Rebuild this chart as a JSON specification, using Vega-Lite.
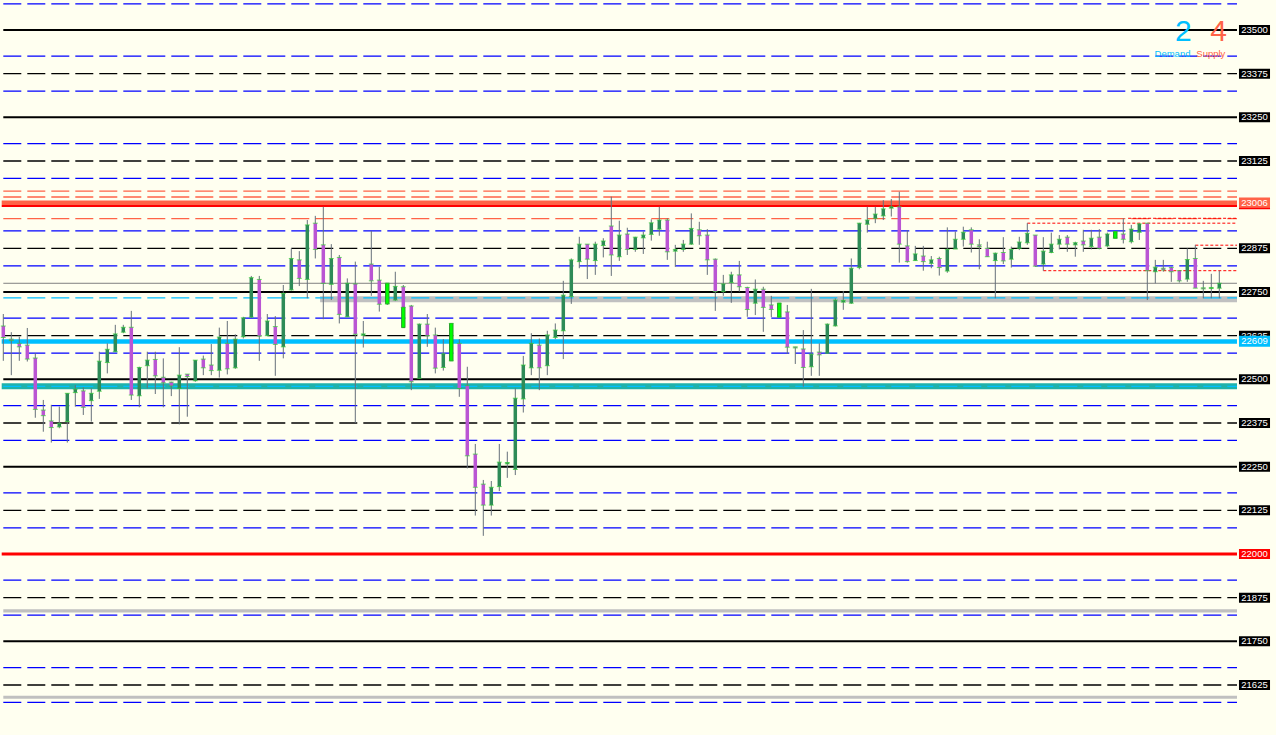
{
"$schema": "https://vega.github.io/schema/vega-lite/v6.json",
"width": 1276, "height": 735, "autosize": "none", "padding": 0,
"background": "#FFFFF0",
"config": {"view": {"stroke": null}, "scale": {"continuousPadding": 0}},
"resolve": {"scale": {"color": "independent"}},
"datasets": {
"candles": [
{"i":0,"o":22653,"h":22687,"l":22553,"c":22620,"t":"d"},
{"i":1,"o":22615,"h":22635,"l":22512,"c":22611,"t":"d"},
{"i":2,"o":22603,"h":22622,"l":22553,"c":22593,"t":"d"},
{"i":3,"o":22598,"h":22647,"l":22551,"c":22558,"t":"d"},
{"i":4,"o":22561,"h":22575,"l":22390,"c":22414,"t":"d"},
{"i":5,"o":22412,"h":22441,"l":22350,"c":22396,"t":"d"},
{"i":6,"o":22381,"h":22427,"l":22319,"c":22362,"t":"d"},
{"i":7,"o":22364,"h":22422,"l":22360,"c":22374,"t":"u"},
{"i":8,"o":22379,"h":22460,"l":22319,"c":22460,"t":"u"},
{"i":9,"o":22462,"h":22484,"l":22422,"c":22472,"t":"u"},
{"i":10,"o":22467,"h":22477,"l":22398,"c":22420,"t":"d"},
{"i":11,"o":22439,"h":22474,"l":22379,"c":22460,"t":"u"},
{"i":12,"o":22466,"h":22579,"l":22444,"c":22552,"t":"u"},
{"i":13,"o":22548,"h":22603,"l":22517,"c":22586,"t":"u"},
{"i":14,"o":22579,"h":22656,"l":22579,"c":22630,"t":"u"},
{"i":15,"o":22635,"h":22656,"l":22632,"c":22649,"t":"u"},
{"i":16,"o":22649,"h":22696,"l":22441,"c":22455,"t":"d"},
{"i":17,"o":22453,"h":22536,"l":22420,"c":22534,"t":"u"},
{"i":18,"o":22539,"h":22579,"l":22474,"c":22555,"t":"u"},
{"i":19,"o":22557,"h":22579,"l":22458,"c":22510,"t":"d"},
{"i":20,"o":22506,"h":22560,"l":22420,"c":22490,"t":"d"},
{"i":21,"o":22492,"h":22493,"l":22452,"c":22481,"t":"d"},
{"i":22,"o":22474,"h":22592,"l":22371,"c":22512,"t":"u"},
{"i":23,"o":22515,"h":22515,"l":22393,"c":22508,"t":"d"},
{"i":24,"o":22496,"h":22555,"l":22493,"c":22555,"t":"u"},
{"i":25,"o":22558,"h":22568,"l":22512,"c":22533,"t":"d"},
{"i":26,"o":22541,"h":22601,"l":22512,"c":22525,"t":"d"},
{"i":27,"o":22526,"h":22648,"l":22505,"c":22621,"t":"u"},
{"i":28,"o":22603,"h":22667,"l":22514,"c":22530,"t":"d"},
{"i":29,"o":22533,"h":22629,"l":22530,"c":22615,"t":"u"},
{"i":30,"o":22622,"h":22679,"l":22617,"c":22676,"t":"u"},
{"i":31,"o":22678,"h":22796,"l":22676,"c":22791,"t":"u"},
{"i":32,"o":22786,"h":22796,"l":22553,"c":22624,"t":"d"},
{"i":33,"o":22625,"h":22687,"l":22625,"c":22667,"t":"u"},
{"i":34,"o":22651,"h":22681,"l":22510,"c":22600,"t":"d"},
{"i":35,"o":22593,"h":22770,"l":22560,"c":22746,"t":"u"},
{"i":36,"o":22756,"h":22875,"l":22754,"c":22846,"t":"u"},
{"i":37,"o":22842,"h":22867,"l":22767,"c":22789,"t":"d"},
{"i":38,"o":22786,"h":22956,"l":22732,"c":22942,"t":"u"},
{"i":39,"o":22947,"h":22968,"l":22846,"c":22872,"t":"d"},
{"i":40,"o":22885,"h":22994,"l":22672,"c":22775,"t":"d"},
{"i":41,"o":22772,"h":22887,"l":22727,"c":22846,"t":"u"},
{"i":42,"o":22849,"h":22856,"l":22660,"c":22686,"t":"d"},
{"i":43,"o":22679,"h":22789,"l":22679,"c":22775,"t":"u"},
{"i":44,"o":22773,"h":22837,"l":22375,"c":22629,"t":"d"},
{"i":45,"o":22626,"h":22667,"l":22591,"c":22630,"t":"u"},
{"i":46,"o":22830,"h":22925,"l":22739,"c":22782,"t":"d"},
{"i":47,"o":22784,"h":22822,"l":22694,"c":22715,"t":"d"},
{"i":48,"o":22716,"h":22775,"l":22713,"c":22775,"t":"u"},
{"i":49,"o":22727,"h":22808,"l":22724,"c":22766,"t":"u"},
{"i":50,"o":22765,"h":22770,"l":22648,"c":22706,"t":"d"},
{"i":51,"o":22710,"h":22713,"l":22469,"c":22493,"t":"d"},
{"i":52,"o":22503,"h":22660,"l":22501,"c":22658,"t":"u"},
{"i":53,"o":22658,"h":22687,"l":22593,"c":22625,"t":"d"},
{"i":54,"o":22627,"h":22648,"l":22517,"c":22532,"t":"d"},
{"i":55,"o":22534,"h":22615,"l":22525,"c":22573,"t":"u"},
{"i":56,"o":22553,"h":22660,"l":22553,"c":22660,"t":"u"},
{"i":57,"o":22603,"h":22615,"l":22450,"c":22474,"t":"d"},
{"i":58,"o":22482,"h":22536,"l":22245,"c":22281,"t":"d"},
{"i":59,"o":22286,"h":22315,"l":22110,"c":22191,"t":"d"},
{"i":60,"o":22200,"h":22212,"l":22052,"c":22140,"t":"d"},
{"i":61,"o":22140,"h":22209,"l":22110,"c":22191,"t":"u"},
{"i":62,"o":22193,"h":22315,"l":22180,"c":22263,"t":"u"},
{"i":63,"o":22258,"h":22293,"l":22218,"c":22262,"t":"u"},
{"i":64,"o":22242,"h":22474,"l":22226,"c":22446,"t":"u"},
{"i":65,"o":22444,"h":22567,"l":22405,"c":22541,"t":"u"},
{"i":66,"o":22533,"h":22632,"l":22512,"c":22603,"t":"u"},
{"i":67,"o":22598,"h":22617,"l":22469,"c":22533,"t":"d"},
{"i":68,"o":22539,"h":22639,"l":22512,"c":22627,"t":"u"},
{"i":69,"o":22620,"h":22660,"l":22615,"c":22641,"t":"u"},
{"i":70,"o":22639,"h":22782,"l":22558,"c":22741,"t":"u"},
{"i":71,"o":22737,"h":22846,"l":22716,"c":22842,"t":"u"},
{"i":72,"o":22837,"h":22908,"l":22818,"c":22887,"t":"u"},
{"i":73,"o":22887,"h":22887,"l":22787,"c":22844,"t":"d"},
{"i":74,"o":22840,"h":22894,"l":22799,"c":22887,"t":"u"},
{"i":75,"o":22883,"h":22904,"l":22849,"c":22896,"t":"u"},
{"i":76,"o":22939,"h":23023,"l":22796,"c":22856,"t":"d"},
{"i":77,"o":22851,"h":22954,"l":22839,"c":22913,"t":"u"},
{"i":78,"o":22916,"h":22934,"l":22856,"c":22872,"t":"d"},
{"i":79,"o":22872,"h":22908,"l":22865,"c":22907,"t":"u"},
{"i":80,"o":22905,"h":22923,"l":22859,"c":22913,"t":"u"},
{"i":81,"o":22915,"h":22958,"l":22897,"c":22948,"t":"u"},
{"i":82,"o":22930,"h":22994,"l":22911,"c":22956,"t":"u"},
{"i":83,"o":22956,"h":22961,"l":22842,"c":22865,"t":"d"},
{"i":84,"o":22867,"h":22885,"l":22822,"c":22872,"t":"u"},
{"i":85,"o":22872,"h":22899,"l":22865,"c":22887,"t":"u"},
{"i":86,"o":22887,"h":22975,"l":22885,"c":22932,"t":"u"},
{"i":87,"o":22928,"h":22951,"l":22885,"c":22911,"t":"d"},
{"i":88,"o":22913,"h":22930,"l":22799,"c":22842,"t":"d"},
{"i":89,"o":22844,"h":22846,"l":22696,"c":22751,"t":"d"},
{"i":90,"o":22751,"h":22799,"l":22739,"c":22773,"t":"u"},
{"i":91,"o":22777,"h":22808,"l":22719,"c":22799,"t":"u"},
{"i":92,"o":22799,"h":22839,"l":22751,"c":22765,"t":"d"},
{"i":93,"o":22763,"h":22765,"l":22679,"c":22700,"t":"d"},
{"i":94,"o":22718,"h":22786,"l":22684,"c":22758,"t":"u"},
{"i":95,"o":22758,"h":22765,"l":22636,"c":22706,"t":"d"},
{"i":96,"o":22713,"h":22739,"l":22678,"c":22700,"t":"d"},
{"i":97,"o":22678,"h":22718,"l":22678,"c":22718,"t":"u"},
{"i":98,"o":22693,"h":22713,"l":22573,"c":22592,"t":"d"},
{"i":99,"o":22593,"h":22593,"l":22544,"c":22590,"t":"d"},
{"i":100,"o":22587,"h":22641,"l":22479,"c":22534,"t":"d"},
{"i":101,"o":22536,"h":22759,"l":22510,"c":22572,"t":"u"},
{"i":102,"o":22578,"h":22603,"l":22510,"c":22570,"t":"d"},
{"i":103,"o":22575,"h":22660,"l":22573,"c":22658,"t":"u"},
{"i":104,"o":22653,"h":22732,"l":22651,"c":22727,"t":"u"},
{"i":105,"o":22721,"h":22753,"l":22699,"c":22726,"t":"u"},
{"i":106,"o":22718,"h":22846,"l":22716,"c":22818,"t":"u"},
{"i":107,"o":22820,"h":22948,"l":22815,"c":22947,"t":"u"},
{"i":108,"o":22944,"h":22994,"l":22920,"c":22956,"t":"u"},
{"i":109,"o":22961,"h":22994,"l":22947,"c":22973,"t":"u"},
{"i":110,"o":22968,"h":23013,"l":22956,"c":22988,"t":"u"},
{"i":111,"o":22990,"h":23016,"l":22966,"c":22994,"t":"u"},
{"i":112,"o":22994,"h":23037,"l":22834,"c":22887,"t":"d"},
{"i":113,"o":22882,"h":22927,"l":22834,"c":22837,"t":"d"},
{"i":114,"o":22840,"h":22882,"l":22839,"c":22859,"t":"u"},
{"i":115,"o":22853,"h":22882,"l":22811,"c":22837,"t":"d"},
{"i":116,"o":22832,"h":22853,"l":22818,"c":22842,"t":"u"},
{"i":117,"o":22846,"h":22851,"l":22797,"c":22820,"t":"d"},
{"i":118,"o":22810,"h":22935,"l":22805,"c":22872,"t":"u"},
{"i":119,"o":22873,"h":22923,"l":22873,"c":22901,"t":"u"},
{"i":120,"o":22901,"h":22937,"l":22880,"c":22921,"t":"u"},
{"i":121,"o":22928,"h":22935,"l":22863,"c":22887,"t":"d"},
{"i":122,"o":22885,"h":22901,"l":22815,"c":22880,"t":"d"},
{"i":123,"o":22875,"h":22894,"l":22851,"c":22851,"t":"d"},
{"i":124,"o":22840,"h":22863,"l":22732,"c":22861,"t":"u"},
{"i":125,"o":22863,"h":22907,"l":22830,"c":22839,"t":"d"},
{"i":126,"o":22844,"h":22880,"l":22820,"c":22872,"t":"u"},
{"i":127,"o":22875,"h":22908,"l":22870,"c":22893,"t":"u"},
{"i":128,"o":22891,"h":22947,"l":22885,"c":22918,"t":"u"},
{"i":129,"o":22913,"h":22913,"l":22822,"c":22824,"t":"d"},
{"i":130,"o":22830,"h":22907,"l":22811,"c":22867,"t":"u"},
{"i":131,"o":22863,"h":22920,"l":22861,"c":22887,"t":"u"},
{"i":132,"o":22887,"h":22913,"l":22872,"c":22901,"t":"u"},
{"i":133,"o":22907,"h":22913,"l":22865,"c":22887,"t":"d"},
{"i":134,"o":22885,"h":22894,"l":22851,"c":22891,"t":"u"},
{"i":135,"o":22896,"h":22928,"l":22865,"c":22885,"t":"d"},
{"i":136,"o":22880,"h":22928,"l":22872,"c":22904,"t":"u"},
{"i":137,"o":22907,"h":22930,"l":22872,"c":22875,"t":"d"},
{"i":138,"o":22882,"h":22920,"l":22878,"c":22916,"t":"u"},
{"i":139,"o":22904,"h":22923,"l":22904,"c":22923,"t":"u"},
{"i":140,"o":22916,"h":22961,"l":22889,"c":22901,"t":"d"},
{"i":141,"o":22894,"h":22942,"l":22889,"c":22930,"t":"u"},
{"i":142,"o":22921,"h":22947,"l":22899,"c":22945,"t":"u"},
{"i":143,"o":22947,"h":22947,"l":22727,"c":22811,"t":"d"},
{"i":144,"o":22808,"h":22842,"l":22775,"c":22821,"t":"u"},
{"i":145,"o":22818,"h":22842,"l":22808,"c":22813,"t":"d"},
{"i":146,"o":22820,"h":22822,"l":22779,"c":22808,"t":"d"},
{"i":147,"o":22811,"h":22811,"l":22777,"c":22782,"t":"d"},
{"i":148,"o":22787,"h":22875,"l":22779,"c":22843,"t":"u"},
{"i":149,"o":22846,"h":22885,"l":22761,"c":22761,"t":"d"},
{"i":150,"o":22762,"h":22782,"l":22732,"c":22759,"t":"d"},
{"i":151,"o":22760,"h":22802,"l":22732,"c":22763,"t":"u"},
{"i":152,"o":22761,"h":22811,"l":22732,"c":22775,"t":"u"}
],
"lime": [
{"i":48,"lo":22716,"hi":22775},
{"i":50,"lo":22648,"hi":22706},
{"i":56,"lo":22553,"hi":22660},
{"i":97,"lo":22678,"hi":22718},
{"i":139,"lo":22904,"hi":22923}
],
"levels": [
{"p":23500,"a":0,"b":154.2125,"kind":"major"},
{"p":23250,"a":0,"b":154.2125,"kind":"major"},
{"p":22750,"a":0,"b":154.2125,"kind":"major"},
{"p":22500,"a":0,"b":154.2125,"kind":"major"},
{"p":22250,"a":0,"b":154.2125,"kind":"major"},
{"p":21750,"a":0,"b":154.2125,"kind":"major"},
{"p":22775,"a":0,"b":154.2125,"kind":"grid"},
{"p":22729,"a":39.6,"b":154.2125,"kind":"greyband"},
{"p":22480,"a":-0.2,"b":154.2125,"kind":"tealband"},
{"p":23005.5,"a":-0.2,"b":154.2125,"kind":"sup"},
{"p":22996,"a":-0.2,"b":154.2125,"kind":"supline"},
{"p":22990,"a":154.46,"b":158.34,"kind":"supline"},
{"p":22608,"a":-0.2,"b":154.2125,"kind":"dem"},
{"p":22000,"a":-0.2,"b":154.2125,"kind":"round"},
{"p":21837,"a":0,"b":154.2125,"kind":"lowband"},
{"p":21590,"a":0,"b":154.2125,"kind":"lowband"},
{"p":23375,"a":0,"b":154.2125,"kind":"dash"},
{"p":23125,"a":0,"b":154.2125,"kind":"dash"},
{"p":22875,"a":0,"b":154.2125,"kind":"dash"},
{"p":22625,"a":0,"b":154.2125,"kind":"dash"},
{"p":22375,"a":0,"b":154.2125,"kind":"dash"},
{"p":22125,"a":0,"b":154.2125,"kind":"dash"},
{"p":21875,"a":0,"b":154.2125,"kind":"dash"},
{"p":21625,"a":0,"b":154.2125,"kind":"dash"},
{"p":23575,"a":0,"b":154.2125,"kind":"blue"},
{"p":23425,"a":0,"b":154.2125,"kind":"blue"},
{"p":23325,"a":0,"b":154.2125,"kind":"blue"},
{"p":23175,"a":0,"b":154.2125,"kind":"blue"},
{"p":23075,"a":0,"b":154.2125,"kind":"blue"},
{"p":22925,"a":0,"b":154.2125,"kind":"blue"},
{"p":22825,"a":0,"b":154.2125,"kind":"blue"},
{"p":22675,"a":0,"b":154.2125,"kind":"blue"},
{"p":22575,"a":0,"b":154.2125,"kind":"blue"},
{"p":22425,"a":0,"b":154.2125,"kind":"blue"},
{"p":22325,"a":0,"b":154.2125,"kind":"blue"},
{"p":22175,"a":0,"b":154.2125,"kind":"blue"},
{"p":22075,"a":0,"b":154.2125,"kind":"blue"},
{"p":21925,"a":0,"b":154.2125,"kind":"blue"},
{"p":21825,"a":0,"b":154.2125,"kind":"blue"},
{"p":21675,"a":0,"b":154.2125,"kind":"blue"},
{"p":21575,"a":0,"b":154.2125,"kind":"blue"},
{"p":23039,"a":0,"b":154.2125,"kind":"salmon"},
{"p":23022,"a":0,"b":154.2125,"kind":"salmon"},
{"p":22960,"a":0,"b":154.2125,"kind":"salmon"},
{"p":22733,"a":0,"b":154.2125,"kind":"cyan"},
{"p":22480,"a":0,"b":154.2125,"kind":"cyan"},
{"p":22961,"a":140.6,"b":154.2125,"kind":"zone"},
{"p":22947,"a":128,"b":154.2125,"kind":"zone"},
{"p":22884,"a":149,"b":154.2125,"kind":"zone"},
{"p":22811,"a":130,"b":154.2125,"kind":"zone"}
],
"ax": [
{"p":23500,"kind":"n"},{"p":23375,"kind":"n"},{"p":23250,"kind":"n"},{"p":23125,"kind":"n"},
{"p":23006,"kind":"sup"},{"p":22875,"kind":"n"},{"p":22750,"kind":"n"},{"p":22625,"kind":"n"},
{"p":22609,"kind":"dem"},{"p":22500,"kind":"n"},{"p":22375,"kind":"n"},{"p":22250,"kind":"n"},
{"p":22125,"kind":"n"},{"p":22000,"kind":"round"},{"p":21875,"kind":"n"},{"p":21750,"kind":"n"},{"p":21625,"kind":"n"}
],
"counts": [
{"i":147.5,"p":23469,"t":"2","side":"Demand"},
{"i":151.9,"p":23469,"t":"4","side":"Supply"}
],
"captions": [
{"i":146.15,"p":23423,"t":"Demand","side":"Demand"},
{"i":150.94,"p":23423,"t":"Supply","side":"Supply"}
]
},
"layer": [
{"data":{"name":"levels"},"transform":[{"filter":{"field":"kind","oneOf":["greyband","tealband"]}}],
 "mark":{"type":"rule","strokeWidth":6},
 "encoding":{"x":{"field":"a","type":"quantitative","scale":{"domain":[-0.4125,159.0875],"nice":false,"zero":false,"padding":0},"axis":null},"x2":{"field":"b"},
  "y":{"field":"p","type":"quantitative","scale":{"domain":[21481.87,23585.88],"nice":false,"zero":false,"padding":0},"axis":null},
  "color":{"field":"kind","type":"nominal","scale":{"domain":["greyband","tealband"],"range":["#C0C0C0","#20B2AA"]},"legend":null}}},
{"data":{"name":"levels"},"transform":[{"filter":{"field":"kind","oneOf":["sup","dem"]}}],
 "mark":{"type":"rule","strokeWidth":4.5},
 "encoding":{"x":{"field":"a","type":"quantitative","scale":{"domain":[-0.4125,159.0875],"nice":false,"zero":false,"padding":0},"axis":null},"x2":{"field":"b"},
  "y":{"field":"p","type":"quantitative","scale":{"domain":[21481.87,23585.88],"nice":false,"zero":false,"padding":0},"axis":null},
  "color":{"field":"kind","type":"nominal","scale":{"domain":["sup","dem"],"range":["#FF6347","#00BFFF"]},"legend":null}}},
{"data":{"name":"levels"},"transform":[{"filter":{"field":"kind","oneOf":["major","supline"]}}],
 "mark":{"type":"rule","strokeWidth":2},
 "encoding":{"x":{"field":"a","type":"quantitative","scale":{"domain":[-0.4125,159.0875],"nice":false,"zero":false,"padding":0},"axis":null},"x2":{"field":"b"},
  "y":{"field":"p","type":"quantitative","scale":{"domain":[21481.87,23585.88],"nice":false,"zero":false,"padding":0},"axis":null},
  "color":{"field":"kind","type":"nominal","scale":{"domain":["major","supline"],"range":["#000000","#FF0000"]},"legend":null}}},
{"data":{"name":"levels"},"transform":[{"filter":{"field":"kind","oneOf":["round","lowband"]}}],
 "mark":{"type":"rule","strokeWidth":3.2},
 "encoding":{"x":{"field":"a","type":"quantitative","scale":{"domain":[-0.4125,159.0875],"nice":false,"zero":false,"padding":0},"axis":null},"x2":{"field":"b"},
  "y":{"field":"p","type":"quantitative","scale":{"domain":[21481.87,23585.88],"nice":false,"zero":false,"padding":0},"axis":null},
  "color":{"field":"kind","type":"nominal","scale":{"domain":["round","lowband"],"range":["#FF0000","#C0C0C0"]},"legend":null}}},
{"data":{"name":"levels"},"transform":[{"filter":{"field":"kind","equal":"grid"}}],
 "mark":{"type":"rule","strokeWidth":1,"color":"#808080"},
 "encoding":{"x":{"field":"a","type":"quantitative","scale":{"domain":[-0.4125,159.0875],"nice":false,"zero":false,"padding":0},"axis":null},"x2":{"field":"b"},
  "y":{"field":"p","type":"quantitative","scale":{"domain":[21481.87,23585.88],"nice":false,"zero":false,"padding":0},"axis":null}}},
{"data":{"name":"levels"},"transform":[{"filter":{"field":"kind","oneOf":["dash","blue","salmon","cyan"]}}],
 "mark":{"type":"rule","strokeWidth":1.3,"strokeDash":[18,6]},
 "encoding":{"x":{"field":"a","type":"quantitative","scale":{"domain":[-0.4125,159.0875],"nice":false,"zero":false,"padding":0},"axis":null},"x2":{"field":"b"},
  "y":{"field":"p","type":"quantitative","scale":{"domain":[21481.87,23585.88],"nice":false,"zero":false,"padding":0},"axis":null},
  "color":{"field":"kind","type":"nominal","scale":{"domain":["dash","blue","salmon","cyan"],"range":["#000000","#0000FF","#FF6347","#00BFFF"]},"legend":null}}},
{"data":{"name":"levels"},"transform":[{"filter":{"field":"kind","equal":"zone"}}],
 "mark":{"type":"rule","strokeWidth":1,"strokeDash":[3,2],"color":"#FF0000"},
 "encoding":{"x":{"field":"a","type":"quantitative","scale":{"domain":[-0.4125,159.0875],"nice":false,"zero":false,"padding":0},"axis":null},"x2":{"field":"b"},
  "y":{"field":"p","type":"quantitative","scale":{"domain":[21481.87,23585.88],"nice":false,"zero":false,"padding":0},"axis":null}}},
{"data":{"name":"candles"},
 "mark":{"type":"rule","strokeWidth":1,"color":"#66707A"},
 "encoding":{"x":{"field":"i","type":"quantitative","scale":{"domain":[-0.4125,159.0875],"nice":false,"zero":false,"padding":0},"axis":null},
  "y":{"field":"l","type":"quantitative","scale":{"domain":[21481.87,23585.88],"nice":false,"zero":false,"padding":0},"axis":null},"y2":{"field":"h"}}},
{"data":{"name":"candles"},
 "mark":{"type":"bar","size":3.5},
 "encoding":{"x":{"field":"i","type":"quantitative","scale":{"domain":[-0.4125,159.0875],"nice":false,"zero":false,"padding":0},"axis":null},
  "y":{"field":"o","type":"quantitative","scale":{"domain":[21481.87,23585.88],"nice":false,"zero":false,"padding":0},"axis":null},"y2":{"field":"c"},
  "color":{"field":"t","type":"nominal","scale":{"domain":["u","d"],"range":["#2E8B57","#BA55D3"]},"legend":null}}},
{"data":{"name":"lime"},
 "mark":{"type":"bar","size":3.5,"color":"#00FF00","stroke":"#228B22","strokeWidth":0.8},
 "encoding":{"x":{"field":"i","type":"quantitative","scale":{"domain":[-0.4125,159.0875],"nice":false,"zero":false,"padding":0},"axis":null},
  "y":{"field":"lo","type":"quantitative","scale":{"domain":[21481.87,23585.88],"nice":false,"zero":false,"padding":0},"axis":null},"y2":{"field":"hi"}}},
{"data":{"name":"candles"},
 "mark":{"type":"tick","orient":"horizontal","size":5,"thickness":1,"color":"#32CD32"},
 "encoding":{"x":{"field":"i","type":"quantitative","scale":{"domain":[-0.4125,159.0875],"nice":false,"zero":false,"padding":0},"axis":null},
  "y":{"field":"o","type":"quantitative","scale":{"domain":[21481.87,23585.88],"nice":false,"zero":false,"padding":0},"axis":null}}},
{"data":{"name":"candles"},
 "mark":{"type":"tick","orient":"horizontal","size":5,"thickness":1,"color":"#32CD32"},
 "encoding":{"x":{"field":"i","type":"quantitative","scale":{"domain":[-0.4125,159.0875],"nice":false,"zero":false,"padding":0},"axis":null},
  "y":{"field":"c","type":"quantitative","scale":{"domain":[21481.87,23585.88],"nice":false,"zero":false,"padding":0},"axis":null}}},
{"data":{"name":"ax"},"transform":[{"filter":"datum.kind != 'dem'"}],
 "mark":{"type":"bar","size":10},
 "encoding":{"x":{"datum":154.46,"type":"quantitative","scale":{"domain":[-0.4125,159.0875],"nice":false,"zero":false,"padding":0},"axis":null},"x2":{"datum":158.34},
  "y":{"field":"p","type":"quantitative","scale":{"domain":[21481.87,23585.88],"nice":false,"zero":false,"padding":0},"axis":null},
  "color":{"field":"kind","type":"nominal","scale":{"domain":["n","sup","dem","round"],"range":["#000000","#FF6347","#00BFFF","#FF0000"]},"legend":null}}},
{"data":{"name":"ax"},"transform":[{"filter":"datum.kind != 'dem'"}],
 "mark":{"type":"text","font":"Liberation Sans","fontSize":9.5,"color":"#FFFFFF","align":"center","baseline":"middle"},
 "encoding":{"x":{"datum":156.4,"type":"quantitative","scale":{"domain":[-0.4125,159.0875],"nice":false,"zero":false,"padding":0},"axis":null},
  "y":{"field":"p","type":"quantitative","scale":{"domain":[21481.87,23585.88],"nice":false,"zero":false,"padding":0},"axis":null},
  "text":{"field":"p","type":"quantitative","format":"d"}}},
{"data":{"name":"ax"},"transform":[{"filter":"datum.kind == 'dem'"}],
 "mark":{"type":"bar","size":11,"color":"#00BFFF"},
 "encoding":{"x":{"datum":154.46,"type":"quantitative","scale":{"domain":[-0.4125,159.0875],"nice":false,"zero":false,"padding":0},"axis":null},"x2":{"datum":158.34},
  "y":{"field":"p","type":"quantitative","scale":{"domain":[21481.87,23585.88],"nice":false,"zero":false,"padding":0},"axis":null}}},
{"data":{"name":"ax"},"transform":[{"filter":"datum.kind == 'dem'"}],
 "mark":{"type":"text","font":"Liberation Sans","fontSize":9.5,"color":"#FFFFFF","align":"center","baseline":"middle"},
 "encoding":{"x":{"datum":156.4,"type":"quantitative","scale":{"domain":[-0.4125,159.0875],"nice":false,"zero":false,"padding":0},"axis":null},
  "y":{"field":"p","type":"quantitative","scale":{"domain":[21481.87,23585.88],"nice":false,"zero":false,"padding":0},"axis":null},
  "text":{"field":"p","type":"quantitative","format":"d"}}},
{"data":{"name":"counts"},
 "mark":{"type":"text","font":"Liberation Sans","fontSize":30,"align":"center","baseline":"alphabetic"},
 "encoding":{"x":{"field":"i","type":"quantitative","scale":{"domain":[-0.4125,159.0875],"nice":false,"zero":false,"padding":0},"axis":null},
  "y":{"field":"p","type":"quantitative","scale":{"domain":[21481.87,23585.88],"nice":false,"zero":false,"padding":0},"axis":null},
  "text":{"field":"t"},
  "color":{"field":"side","type":"nominal","scale":{"domain":["Demand","Supply"],"range":["#00BFFF","#FF6347"]},"legend":null}}},
{"data":{"name":"captions"},
 "mark":{"type":"text","font":"Liberation Sans","fontSize":9.5,"align":"center","baseline":"alphabetic"},
 "encoding":{"x":{"field":"i","type":"quantitative","scale":{"domain":[-0.4125,159.0875],"nice":false,"zero":false,"padding":0},"axis":null},
  "y":{"field":"p","type":"quantitative","scale":{"domain":[21481.87,23585.88],"nice":false,"zero":false,"padding":0},"axis":null},
  "text":{"field":"t"},
  "color":{"field":"side","type":"nominal","scale":{"domain":["Demand","Supply"],"range":["#00BFFF","#FF6347"]},"legend":null}}}
]
}
